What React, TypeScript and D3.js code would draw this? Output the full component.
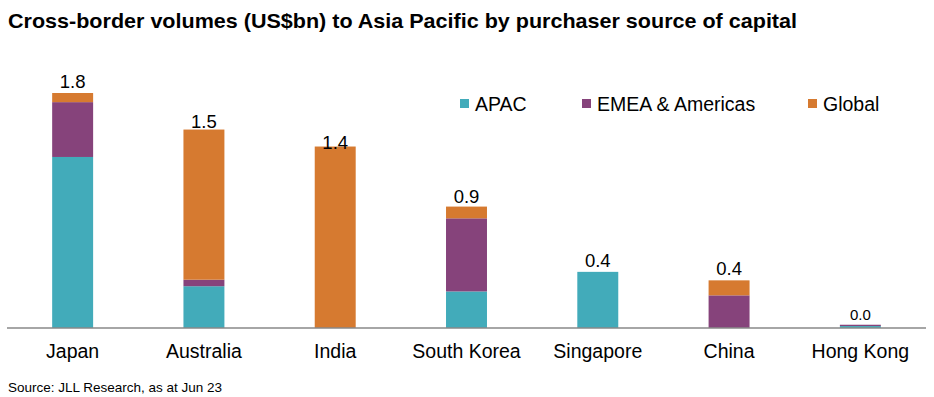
import React from "react";
import * as d3 from "d3";

const categories = ["Japan", "Australia", "India", "South Korea", "Singapore", "China", "Hong Kong"];
const seriesNames = ["APAC", "EMEA & Americas", "Global"];
const apac = [1.31, 0.32, 0, 0.28, 0.43, 0, 0.015];
const emeaAmericas = [0.42, 0.05, 0, 0.56, 0, 0.25, 0.01];
const global = [0.07, 1.15, 1.39, 0.09, 0, 0.115, 0];
const totalLabels = ["1.8", "1.5", "1.4", "0.9", "0.4", "0.4", "0.0"];

// label gap above each bar (layout, px)
const labelGap = [5, 2, -2, 4, 5, 5, 5];

const colors = ["#42ABBA", "#86437B", "#D67A30"];
const W = 934;
const H = 397;
const FONT = "Arial, 'Liberation Sans', Helvetica, sans-serif";

export default function App() {
  const rows = categories.map((c, i) => ({
    cat: c,
    APAC: apac[i],
    "EMEA & Americas": emeaAmericas[i],
    Global: global[i],
  }));
  const stack = d3.stack<any>().keys(seriesNames)(rows);

  const x = d3.scaleBand().domain(categories).range([7, 926]).paddingInner(0.688).paddingOuter(0.344);
  const y = d3.scaleLinear().domain([0, 1.8]).range([328, 93]);

  const totals = rows.map((r, i) => apac[i] + emeaAmericas[i] + global[i]);

  const legendX = [460, 582, 808];

  return (
    <svg width={W} height={H} style={{ position: "absolute", left: 0, top: 0, background: "#fff" }} fontFamily={FONT}>
      <rect width={W} height={H} fill="#fff" />
      <text x={8} y={28} fontSize={21} fontWeight="bold" fill="#000" textLength={789} lengthAdjust="spacingAndGlyphs">
        Cross-border volumes (US$bn) to Asia Pacific by purchaser source of capital
      </text>
      {stack.map((s, si) => (
        <g key={s.key} fill={colors[si]}>
          {s.map((d, i) => {
            const h = y(d[0]) - y(d[1]);
            if (h <= 0) return null;
            return <rect key={i} x={x(categories[i])!} width={x.bandwidth()} y={y(d[1])} height={h} />;
          })}
        </g>
      ))}
      <line x1={7} x2={926} y1={328} y2={328} stroke="#898989" strokeWidth={1.3} />
      {categories.map((c, i) => (
        <text
          key={c}
          x={x(c)! + x.bandwidth() / 2}
          y={y(totals[i]) - labelGap[i]}
          textAnchor="middle"
          fontSize={c === "Hong Kong" ? 15 : 18.5}
          fill="#000"
        >
          {totalLabels[i]}
        </text>
      ))}
      {categories.map((c) => (
        <text key={c} x={x(c)! + x.bandwidth() / 2} y={358} textAnchor="middle" fontSize={19.5} fill="#000">
          {c}
        </text>
      ))}
      {seriesNames.map((n, i) => (
        <g key={n}>
          <rect x={legendX[i]} y={99} width={9} height={9} fill={colors[i]} />
          <text x={legendX[i] + 15} y={111} fontSize={19.5} fill="#000">
            {n}
          </text>
        </g>
      ))}
      <text x={8} y={392} fontSize={13.5} fill="#000">
        Source: JLL Research, as at Jun 23
      </text>
    </svg>
  );
}
